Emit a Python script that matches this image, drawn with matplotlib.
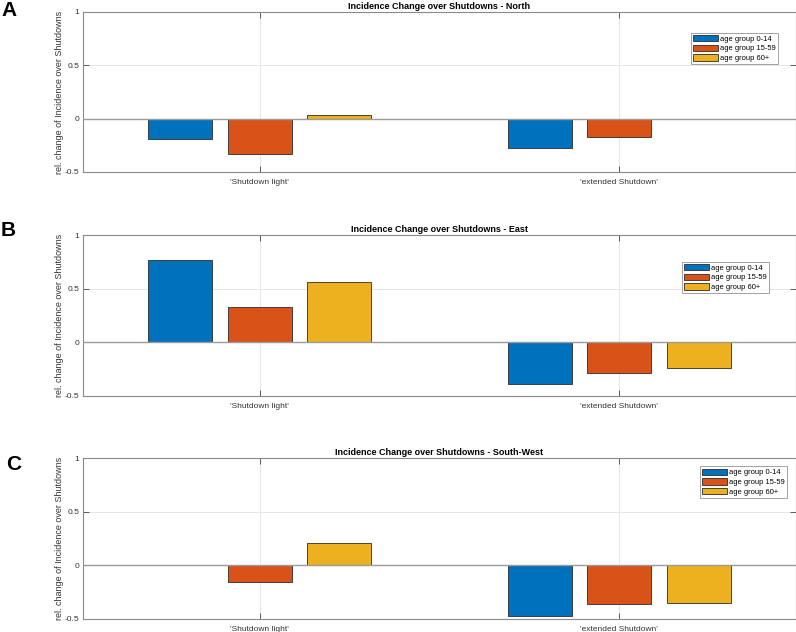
import matplotlib
matplotlib.use("Agg")
import matplotlib.pyplot as plt
import numpy as np

plt.rcParams['font.family'] = ['Liberation Sans', 'DejaVu Sans']
plt.rcParams['axes.unicode_minus'] = False

categories = ["'Shutdown light'", "'extended Shutdown'"]
groups = ["age group 0-14", "age group 15-59", "age group 60+"]
colors = ["#0072BD", "#D95319", "#EDB120"]

north = [[-0.193, -0.328, 0.032], [-0.275, -0.175, -0.002]]
east = [[0.763, 0.324, 0.560], [-0.389, -0.286, -0.237]]
southwest = [[-0.002, -0.156, 0.208], [-0.473, -0.364, -0.355]]

titles = ["Incidence Change over Shutdowns - North",
          "Incidence Change over Shutdowns - East",
          "Incidence Change over Shutdowns - South-West"]
letters = ["A", "B", "C"]
panel_data = [north, east, southwest]

W, H = 796, 632
fig = plt.figure(figsize=(W / 100, H / 100), dpi=100)

axes_px = [(83.3, 12, 795.7, 172), (83.3, 235, 795.7, 395.7), (83.3, 458, 795.7, 618.7)]
legend_px = [(691, 32.7), (681.7, 261.7), (700, 466.3)]  # upper-left corner of legend
letter_px = [(1, 10), (1, 231), (6, 464)]

offsets = [-0.222, 0.0, 0.222]
bw = 0.178

for i in range(3):
    x0, y0, x1, y1 = axes_px[i]
    ax = fig.add_axes([x0 / W, 1 - y1 / H, (x1 - x0) / W, (y1 - y0) / H])
    data = np.array(panel_data[i])
    xs = np.arange(1, len(categories) + 1)
    for g in range(3):
        ax.bar(xs + offsets[g], data[:, g], width=bw, color=colors[g],
               edgecolor="#2b2b2b", linewidth=0.6, label=groups[g], zorder=3)
    ax.axhline(0, color="#9a9a9a", linewidth=1.0, zorder=4)
    ax.set_xlim(0.51, 2.49)
    ax.set_ylim(-0.5, 1)
    ax.set_xticks(xs)
    ax.set_xticklabels(categories)
    ax.set_yticks([-0.5, 0, 0.5, 1])
    ax.set_yticklabels(["-0.5", "0", "0.5", "1"])
    ax.grid(True, color="#e6e6e6", linewidth=0.7, zorder=0)
    ax.set_axisbelow(True)
    ax.tick_params(axis='both', direction='in', length=4, width=0.6, color="#444444",
                   labelsize=6.0, labelcolor="#333333", top=True, right=True, pad=3.0)
    ax.tick_params(axis='x', pad=5.0)
    for s in ax.spines.values():
        s.set_color("#8a8a8a")
        s.set_linewidth(0.8)
    ax.set_ylabel("rel. change of Incidence over Shutdowns", fontsize=6.5, color="#333333", labelpad=0.5)
    ax.set_title(titles[i], fontsize=6.5, fontweight='bold', pad=2.5)
    lx, ly = legend_px[i]
    leg = ax.legend(loc='upper left', bbox_to_anchor=(lx / W, 1 - ly / H),
                    bbox_transform=fig.transFigure, fontsize=5.4, frameon=True,
                    fancybox=False, handlelength=3.3, handleheight=0.95,
                    handletextpad=0.3, labelspacing=0.25, borderpad=0.3,
                    borderaxespad=0)
    leg.get_frame().set_edgecolor("#8a8a8a")
    leg.get_frame().set_linewidth(0.7)
    tx, ty = letter_px[i]
    fig.text(tx / W, 1 - ty / H, letters[i], fontsize=15, fontweight='bold',
             va='center', ha='left')

fig.savefig("out.png", dpi=100)
